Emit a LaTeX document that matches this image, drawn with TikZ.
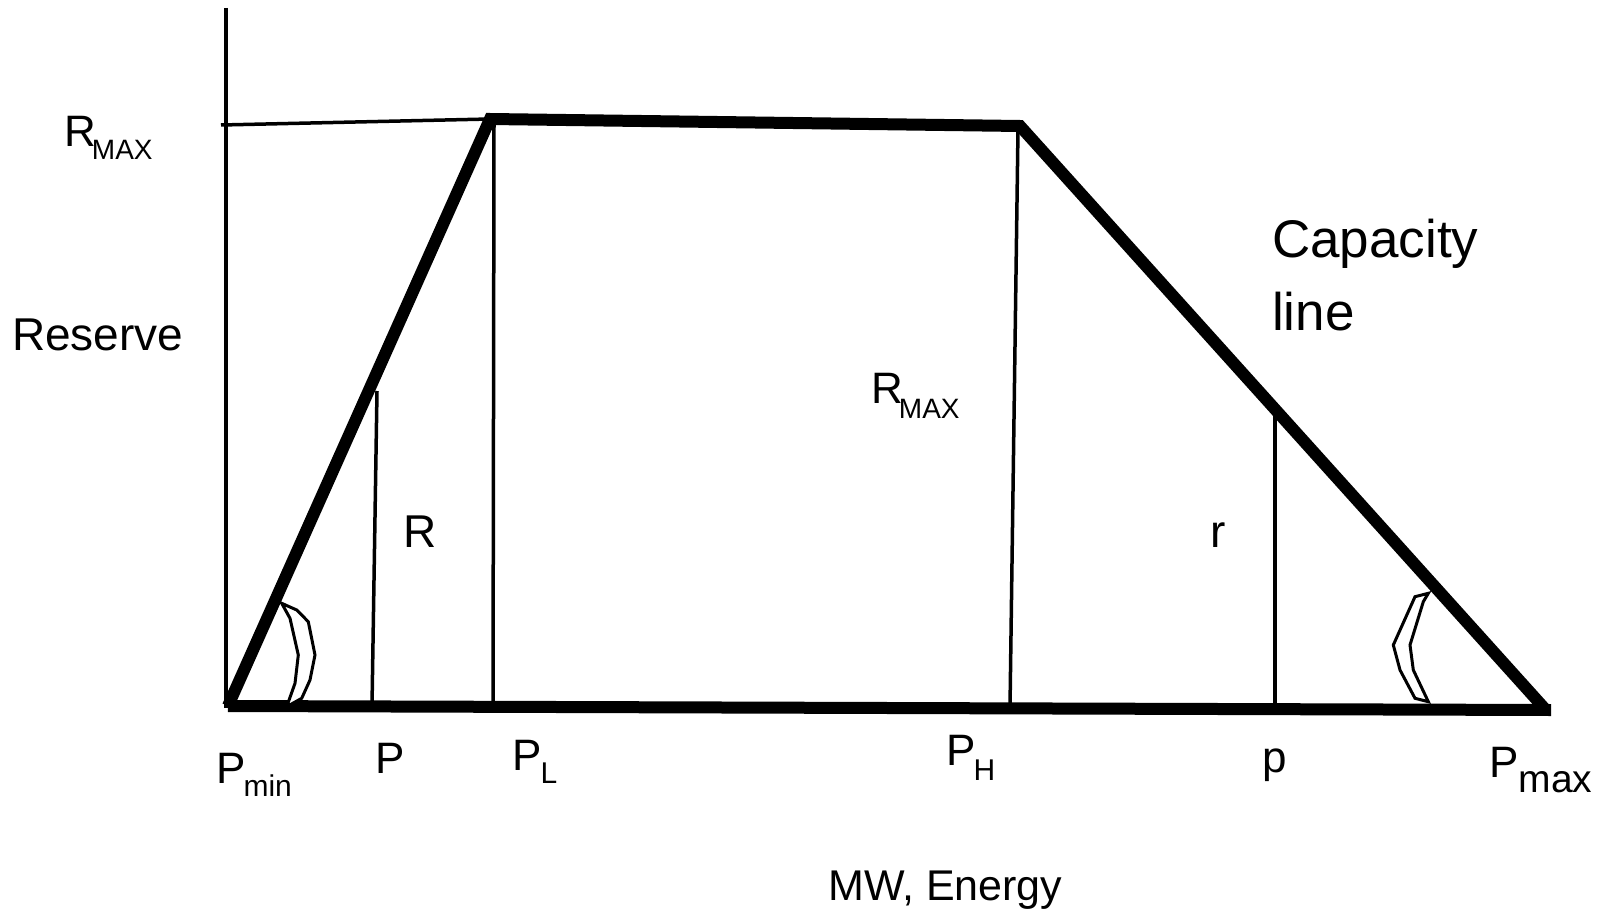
\documentclass[tikz,border=0pt]{standalone}
\usepackage{fontspec}
\setmainfont{Liberation Sans}
\usepackage{tikz}
\usetikzlibrary{positioning}

\newcommand{\sublbl}[5]{#1\kern-#5pt\raisebox{-#3pt}{\fontsize{#4}{#4}\selectfont #2}}

\begin{document}
\begin{tikzpicture}[
    x=1pt, y=-1pt,
    lbl_txt/.style={inner sep=0pt, anchor=base west, font=\fontsize{44}{50}\selectfont},
    big_txt/.style={lbl_txt, font=\fontsize{46}{52}\selectfont},
    thick_line/.style={line width=12pt, line join=miter},
    thin_line/.style={line width=3.5pt},
    mark_line/.style={line width=3pt, line join=miter}
  ]
    \useasboundingbox (0,0) rectangle (1613,912);

    % corner points of the curve
    \coordinate (Pmin) at (228,706);
    \coordinate (Lpeak) at (490,119);
    \coordinate (Hpeak) at (1020,126);
    \coordinate (Pmax) at (1545,709);
    \coordinate (Bend) at (1551,710);
    \coordinate (Atop) at (226,8);
    \coordinate (Abot) at (226,708);
    \coordinate (Rleft) at (221,125);

    % feet and tops of the verticals
    \coordinate (Ptop) at (377,391);
    \coordinate (Pfoot) at (372,706);
    \coordinate (PLtop) at (494,123);
    \coordinate (PLfoot) at (493,706);
    \coordinate (PHtop) at (1018,129);
    \coordinate (PHfoot) at (1010,707);
    \coordinate (ptop) at (1275,411);
    \coordinate (pfoot) at (1275,708);

    \draw[thin_line] (Atop) -- (Abot);
    \draw[thin_line] (Rleft) -- (Lpeak);
    \draw[thin_line] (Ptop) -- (Pfoot);
    \draw[thin_line] (PLtop) -- (PLfoot);
    \draw[thin_line] (PHtop) -- (PHfoot);
    \draw[thin_line] (ptop) -- (pfoot);

    \draw[thick_line] (Pmin) -- (Lpeak) -- (Hpeak) -- (Pmax);
    \draw[thick_line] (Pmin) -- (Bend);

    % angle marks
    \draw[mark_line, fill=white] (281.7,603.3) -- (296.7,610) -- (308.3,621.7) -- (315,655)
      -- (310,680) -- (301.7,698.3) -- (286.7,706.7) -- (295,683.3) -- (298.3,655)
      -- (290,618.3) -- cycle;
    \draw[mark_line, fill=white] (1428.3,593.3) -- (1415,596.7) -- (1393.3,645) -- (1400,670)
      -- (1415,698.3) -- (1428.3,701.7) -- (1413.3,670) -- (1410,645) -- (1423.3,601.7) -- cycle;

    % labels
    \node[lbl_txt] (rmax_top) at (64,147) {\sublbl{R}{MAX}{13}{28}{4}};
    \node[big_txt] (reserve) at (12,350) {Reserve};
    \node[lbl_txt] (rmax_mid) at (871,403) {\sublbl{R}{MAX}{15}{28}{4}};
    \node[big_txt] (r_big) at (403,547) {R};
    \node[big_txt] (r_small) at (1210,547) {r};
    \node[lbl_txt, font=\fontsize{53}{73}\selectfont, align=left] (cap_line) at (1272,330) {Capacity\\line};

    \node[lbl_txt] (pmin_lbl) at (216,783) {\sublbl{P}{min}{13}{30}{2}};
    \node[lbl_txt] (p_lbl) at (375,773) {P};
    \node[lbl_txt] (pl_lbl) at (512,770) {\sublbl{P}{L}{13}{30}{1}};
    \node[lbl_txt] (ph_lbl) at (946,765) {\sublbl{P}{H}{15}{30}{2}};
    \node[lbl_txt] (psmall_lbl) at (1262,772) {p};
    \node[lbl_txt] (pmax_lbl) at (1489,777) {\sublbl{P}{max}{15}{39}{0}};

    \node[lbl_txt, font=\fontsize{43}{50}\selectfont] (axis_lbl) at (828,900) {MW, Energy};
\end{tikzpicture}
\end{document}
